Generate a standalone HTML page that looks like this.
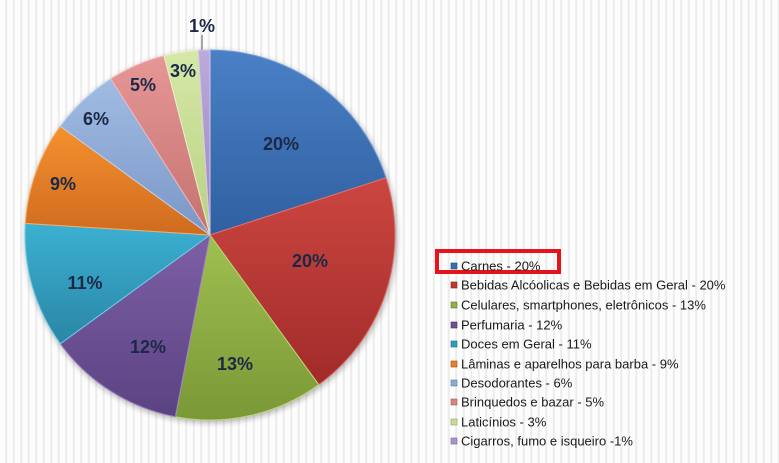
<!DOCTYPE html>
<html>
<head>
<meta charset="utf-8">
<style>
html,body{margin:0;padding:0;}
body{width:779px;height:463px;overflow:hidden;
background:#fcfcfc;
background-image:repeating-linear-gradient(90deg,#fdfdfd 0px,#fdfdfd 5px,#ececec 5.5px,#ececec 7px,#fdfdfd 7.5px);
font-family:"Liberation Sans",sans-serif;}
svg{position:absolute;left:0;top:0;}
</style>
</head>
<body>
<svg width="779" height="463" viewBox="0 0 779 463" xmlns="http://www.w3.org/2000/svg">
<defs>
<filter id="sh" x="-20%" y="-20%" width="140%" height="140%">
<feGaussianBlur stdDeviation="3"/>
</filter>
<linearGradient id="gBlue" gradientUnits="userSpaceOnUse" x1="0" y1="50" x2="0" y2="240"><stop offset="0" stop-color="#4a80c6"/><stop offset="1" stop-color="#2f5f9f"/></linearGradient>
<linearGradient id="gRed" gradientUnits="userSpaceOnUse" x1="0" y1="178" x2="0" y2="385"><stop offset="0" stop-color="#cc4641"/><stop offset="1" stop-color="#a12b29"/></linearGradient>
<linearGradient id="gGreen" gradientUnits="userSpaceOnUse" x1="0" y1="235" x2="0" y2="420"><stop offset="0" stop-color="#9fc051"/><stop offset="1" stop-color="#7a9836"/></linearGradient>
<linearGradient id="gPurple" gradientUnits="userSpaceOnUse" x1="0" y1="235" x2="0" y2="417"><stop offset="0" stop-color="#7d5fa6"/><stop offset="1" stop-color="#5b4382"/></linearGradient>
<linearGradient id="gTeal" gradientUnits="userSpaceOnUse" x1="0" y1="223" x2="0" y2="344"><stop offset="0" stop-color="#3cb0d2"/><stop offset="1" stop-color="#2a86a6"/></linearGradient>
<linearGradient id="gOrange" gradientUnits="userSpaceOnUse" x1="0" y1="126" x2="0" y2="235"><stop offset="0" stop-color="#f5912f"/><stop offset="1" stop-color="#cf6b1f"/></linearGradient>
<linearGradient id="gLBlue" gradientUnits="userSpaceOnUse" x1="0" y1="79" x2="0" y2="235"><stop offset="0" stop-color="#a1bce3"/><stop offset="1" stop-color="#7a96c6"/></linearGradient>
<linearGradient id="gPink" gradientUnits="userSpaceOnUse" x1="0" y1="56" x2="0" y2="235"><stop offset="0" stop-color="#e69795"/><stop offset="1" stop-color="#c47270"/></linearGradient>
<linearGradient id="gLGreen" gradientUnits="userSpaceOnUse" x1="0" y1="50" x2="0" y2="235"><stop offset="0" stop-color="#d6e8a8"/><stop offset="1" stop-color="#b8d082"/></linearGradient>
<linearGradient id="gLav" gradientUnits="userSpaceOnUse" x1="0" y1="50" x2="0" y2="235"><stop offset="0" stop-color="#bcaadb"/><stop offset="1" stop-color="#9a86bd"/></linearGradient>
</defs>

<circle cx="211" cy="237" r="186" fill="#000" opacity="0.28" filter="url(#sh)"/>

<g stroke-linejoin="round">
<path d="M210,235 L210,50 A185,185 0 0 1 385.95,177.83 Z" fill="url(#gBlue)" stroke="#6d9bd6" stroke-width="1"/>
<path d="M210,235 L385.95,177.83 A185,185 0 0 1 318.74,384.67 Z" fill="url(#gRed)" stroke="#e0706b" stroke-width="1"/>
<path d="M210,235 L318.74,384.67 A185,185 0 0 1 175.33,416.72 Z" fill="url(#gGreen)" stroke="#bcd77a" stroke-width="1"/>
<path d="M210,235 L175.33,416.72 A185,185 0 0 1 60.33,343.74 Z" fill="url(#gPurple)" stroke="#9a80c2" stroke-width="1"/>
<path d="M210,235 L60.33,343.74 A185,185 0 0 1 25.36,223.38 Z" fill="url(#gTeal)" stroke="#6dd0ea" stroke-width="1"/>
<path d="M210,235 L25.36,223.38 A185,185 0 0 1 60.33,126.26 Z" fill="url(#gOrange)" stroke="#f8ad62" stroke-width="1"/>
<path d="M210,235 L60.33,126.26 A185,185 0 0 1 110.87,78.80 Z" fill="url(#gLBlue)" stroke="#bed2ef" stroke-width="1"/>
<path d="M210,235 L110.87,78.80 A185,185 0 0 1 163.99,55.81 Z" fill="url(#gPink)" stroke="#f2b6b4" stroke-width="1"/>
<path d="M210,235 L163.99,55.81 A185,185 0 0 1 198.38,50.36 Z" fill="url(#gLGreen)" stroke="#e6f2c6" stroke-width="1"/>
<path d="M210,235 L198.38,50.36 A185,185 0 0 1 210,50 Z" fill="url(#gLav)" stroke="#d3c6ea" stroke-width="1"/>
</g>

<line x1="202" y1="35" x2="202" y2="50" stroke="#8a8a8a" stroke-width="1.5"/>

<g font-family="'Liberation Sans',sans-serif" font-weight="bold" font-size="18" fill="#1b2947" text-anchor="middle">
<text x="281" y="150">20%</text>
<text x="310" y="267">20%</text>
<text x="235" y="370">13%</text>
<text x="148" y="353">12%</text>
<text x="85" y="289">11%</text>
<text x="63" y="190">9%</text>
<text x="96" y="125">6%</text>
<text x="143" y="91">5%</text>
<text x="183" y="77">3%</text>
<text x="202" y="32">1%</text>
</g>

<rect x="437" y="251" width="122" height="21" fill="none" stroke="#e3141c" stroke-width="4"/>

<g font-family="'Liberation Sans',sans-serif" font-size="13" fill="#1a1a1a">
<rect x="451" y="263" width="6" height="6" fill="#3a6db0" stroke="#24487a" stroke-width="0.6"/>
<text x="461" y="270.5">Carnes - 20%</text>
<rect x="451" y="282" width="6" height="6" fill="#c0392f" stroke="#7f2220" stroke-width="0.6"/>
<text x="461" y="289.5">Bebidas Alcóolicas e Bebidas em Geral - 20%</text>
<rect x="451" y="302" width="6" height="6" fill="#8fb046" stroke="#5e7a2a" stroke-width="0.6"/>
<text x="461" y="309.5">Celulares, smartphones, eletrônicos - 13%</text>
<rect x="451" y="322" width="6" height="6" fill="#6d5195" stroke="#46335f" stroke-width="0.6"/>
<text x="461" y="329.5">Perfumaria - 12%</text>
<rect x="451" y="341" width="6" height="6" fill="#319cc0" stroke="#1e6c86" stroke-width="0.6"/>
<text x="461" y="348.5">Doces em Geral - 11%</text>
<rect x="451" y="361" width="6" height="6" fill="#e6802a" stroke="#a0561a" stroke-width="0.6"/>
<text x="461" y="368.5">Lâminas e aparelhos para  barba - 9%</text>
<rect x="451" y="380" width="6" height="6" fill="#8ea9d6" stroke="#5e7bab" stroke-width="0.6"/>
<text x="461" y="387.5">Desodorantes - 6%</text>
<rect x="451" y="399" width="6" height="6" fill="#d88583" stroke="#a45a58" stroke-width="0.6"/>
<text x="461" y="406.5">Brinquedos e bazar - 5%</text>
<rect x="451" y="419" width="6" height="6" fill="#c6db93" stroke="#8ea460" stroke-width="0.6"/>
<text x="461" y="426.5">Laticínios - 3%</text>
<rect x="451" y="438" width="6" height="6" fill="#aa96ca" stroke="#76649a" stroke-width="0.6"/>
<text x="461" y="445.5">Cigarros, fumo e isqueiro -1%</text>
</g>
</svg>
</body>
</html>
